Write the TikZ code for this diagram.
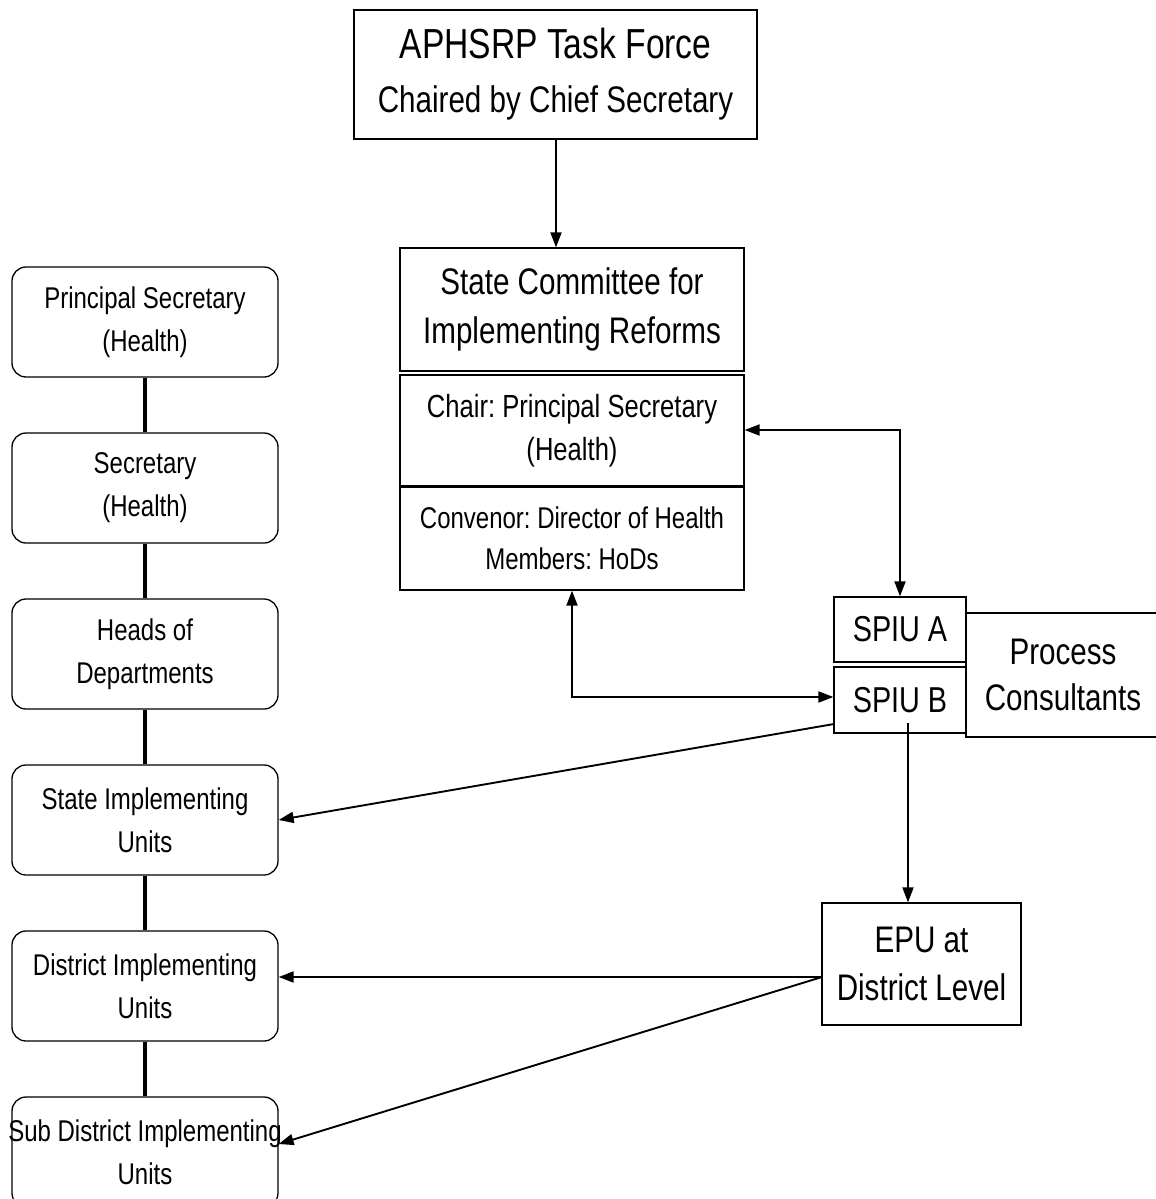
\documentclass[tikz,border=0pt]{standalone}
\usepackage{fontspec}
\setmainfont[FakeStretch=0.8]{Liberation Sans}
\usetikzlibrary{arrows.meta}
\frenchspacing
\begin{document}
\begin{tikzpicture}[x=1pt,y=-1pt,
  box/.style={draw,line width=1.3pt,inner sep=0pt,align=center},
  lbox/.style={box,rounded corners=14pt,minimum width=266pt,minimum height=110pt,font=\fontsize{30}{43}\selectfont},
  link/.style={line width=3.2pt},
  arr/.style={line width=1.9pt,-{Triangle[length=15pt,width=11pt]}},
  darr/.style={line width=1.9pt,{Triangle[length=15pt,width=11pt]}-{Triangle[length=15pt,width=11pt]}}]
\clip (0,0) rectangle (1156,1199);
\fill[white] (0,0) rectangle (1156,1199);
% top
\node[box,minimum width=403pt,minimum height=129pt,font=\fontsize{37}{54}\selectfont] (top) at (555.5,74.5)
  {{\fontsize{42}{54}\selectfont APHSRP Task Force}\\{\fontsize{37}{54}\selectfont Chaired by Chief Secretary}};
\node[box,minimum width=344pt,minimum height=123pt,font=\fontsize{37}{49}\selectfont] (scr) at (572,309.5)
  {State Committee for\\Implementing Reforms};
\node[box,minimum width=344pt,minimum height=111pt,font=\fontsize{32}{43}\selectfont] (chair) at (572,430.5)
  {Chair: Principal Secretary\\(Health)};
\node[box,minimum width=344pt,minimum height=104pt,font=\fontsize{30}{41}\selectfont] (conv) at (572,538)
  {Convenor: Director of Health\\Members: HoDs};
\draw[line width=3pt] (chair.south west) -- (chair.south east);
% SPIU
\node[box,minimum width=132pt,minimum height=65pt,font=\fontsize{36}{44}\selectfont] (spiuA) at (900,629.5) {SPIU A};
\node[box,minimum width=132pt,minimum height=66pt,font=\fontsize{36}{44}\selectfont] (spiuB) at (900,700) {SPIU B};
\node[box,minimum width=194pt,minimum height=124pt,font=\fontsize{37}{46}\selectfont] (pc) at (1063,675) {Process\\Consultants};
\node[box,minimum width=199pt,minimum height=122pt,font=\fontsize{37}{48}\selectfont] (epu) at (921.5,964) {EPU at\\District Level};
% left column
\node[lbox] (l1) at (145,322) {Principal Secretary\\(Health)};
\node[lbox] (l2) at (145,488) {Secretary\\(Health)};
\node[lbox] (l3) at (145,654) {Heads of\\Departments};
\node[lbox] (l4) at (145,820) {State Implementing\\Units};
\node[lbox] (l5) at (145,986) {District Implementing\\Units};
\node[lbox] (l6) at (145,1152) {\makebox[200pt][c]{Sub District Implementing}\\Units};
\draw[link] (l1.south) -- (l2.north);
\draw[link] (l2.south) -- (l3.north);
\draw[link] (l3.south) -- (l4.north);
\draw[link] (l4.south) -- (l5.north);
\draw[link] (l5.south) -- (l6.north);
% connectors
\coordinate (t1) at (556,139);
\draw[arr] (t1) -- (t1 |- scr.north);
\coordinate (c1) at (900,430);
\draw[darr] (c1 -| chair.east) -- (c1) -- (spiuA.north);
\coordinate (c2) at (572,697);
\draw[darr] (c2 |- conv.south) -- (c2) -- (c2 -| spiuB.west);
\coordinate (s1) at (834,724);
\coordinate (s2) at (908,723);
\draw[arr] (s1) -- (l4.east);
\draw[arr] (s2) -- (s2 |- epu.north);
\coordinate (e1) at (822,977);
\draw[arr] (e1) -- (e1 -| l5.east);
\draw[arr] (e1) -- ([yshift=8pt]l6.east);
\end{tikzpicture}
\end{document}
